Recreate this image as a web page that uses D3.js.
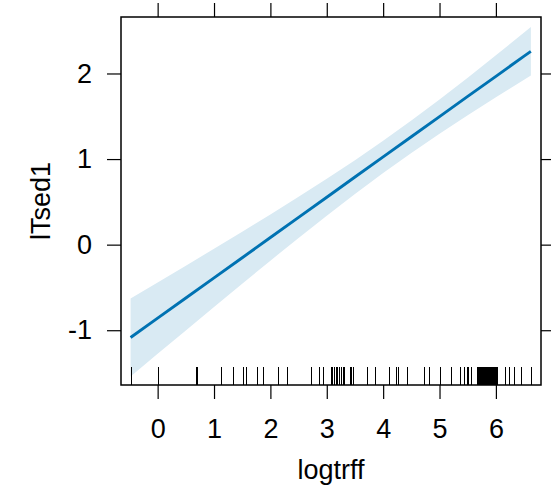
<!DOCTYPE html>
<meta charset="utf-8">
<style>
body { margin: 0; background: #fff; }
svg text { font-family: "Liberation Sans", Arial, sans-serif; fill: #000; }
.axis path { display: none; }
.axis line { stroke: #000; stroke-width: 1.2px; }
.box { fill: none; stroke: #000; stroke-width: 1.5px; }
.band { fill: #d9eaf3; stroke: none; }
.fit { fill: none; stroke: #0072b2; stroke-width: 2.9px; }
.rug { stroke: #000; stroke-width: 1px; }
</style>
<svg width="551" height="498"></svg>
<script src="https://d3js.org/d3.v7.min.js"></script>
<script>

// effect of logtrff on lTsed1 (fit + 95% band)
const xs    = [-0.48, 0, 0.5, 1, 1.5, 2, 2.5, 3, 3.5, 4, 4.5, 5, 5.5, 6, 6.5, 6.62];
const fit   = [-1.085, -0.859, -0.624, -0.388, -0.153, 0.083, 0.319, 0.554, 0.790, 1.025, 1.261, 1.496, 1.732, 1.967, 2.203, 2.259];
const lower = [-1.540, -1.276, -1.002, -0.728, -0.457, -0.187, 0.079, 0.339, 0.593, 0.837, 1.072, 1.296, 1.513, 1.722, 1.927, 1.976];
const upper = [-0.630, -0.443, -0.246, -0.048, 0.151, 0.353, 0.559, 0.769, 0.987, 1.213, 1.450, 1.696, 1.951, 2.212, 2.479, 2.542];

// observed logtrff values (rug)
const rug = [-0.47, 0, 0.68, 0.70, 1.13, 1.34, 1.52, 1.56, 1.77, 1.87, 2.14, 2.29,
  2.72, 2.87, 2.93, 3.07, 3.10, 3.13, 3.16, 3.19, 3.22, 3.25, 3.28, 3.30, 3.41, 3.43, 3.47,
  3.72, 3.85, 4.11, 4.23, 4.27, 4.43, 4.72, 4.82, 5.00, 5.20, 5.36, 5.44, 5.48, 5.51, 5.56,
  5.665, 5.68, 5.70, 5.715, 5.735, 5.75, 5.77, 5.79, 5.805, 5.82, 5.84, 5.86, 5.875, 5.895,
  5.91, 5.93, 5.945, 5.965, 5.98, 6.00, 6.015, 6.16, 6.23, 6.32, 6.45, 6.63];

const xTicks = [0, 1, 2, 3, 4, 5, 6];
const yTicks = [-1, 0, 1, 2];

const L = 121, R = 541, T = 17, B = 385;
const TICK = 14;
const FS = "27px";

var svg = d3.select("svg");

var x = d3.scaleLinear().domain([-0.65, 6.8]).range([L, R]);
var y = d3.scaleLinear().domain([-1.64, 2.66]).range([B, T]);
var fmt = function(d) { return String(d); };  // plain hyphen like R

var pts = xs.map(function(d, i) {
  return { x: d, fit: fit[i], lo: lower[i], hi: upper[i] };
});

svg.append("path")
  .datum(pts)
  .attr("class", "band")
  .attr("d", d3.area()
    .x(function(d) { return x(d.x); })
    .y0(function(d) { return y(d.lo); })
    .y1(function(d) { return y(d.hi); }));

svg.append("path")
  .datum(pts)
  .attr("class", "fit")
  .attr("d", d3.line()
    .x(function(d) { return x(d.x); })
    .y(function(d) { return y(d.fit); }));

svg.selectAll("line.rug")
  .data(rug)
  .enter().append("line")
    .attr("class", "rug")
    .attr("x1", function(d) { return Math.round(x(d)) + 0.5; })
    .attr("x2", function(d) { return Math.round(x(d)) + 0.5; })
    .attr("y1", B)
    .attr("y2", B - 18);

svg.append("rect")
  .attr("class", "box")
  .attr("x", L).attr("y", T)
  .attr("width", R - L).attr("height", B - T);

// axes: ticks on all four sides, labels bottom + left
svg.append("g").attr("class", "axis")
  .attr("transform", "translate(0," + B + ")")
  .call(d3.axisBottom(x).tickValues(xTicks).tickSize(TICK).tickSizeOuter(0).tickPadding(20).tickFormat(fmt))
  .selectAll("text").style("font-size", FS);

svg.append("g").attr("class", "axis")
  .attr("transform", "translate(0," + T + ")")
  .call(d3.axisTop(x).tickValues(xTicks).tickSize(TICK).tickSizeOuter(0).tickFormat(""));

svg.append("g").attr("class", "axis")
  .attr("transform", "translate(" + L + ",0)")
  .call(d3.axisLeft(y).tickValues(yTicks).tickSize(TICK).tickSizeOuter(0).tickPadding(15).tickFormat(fmt))
  .selectAll("text").style("font-size", FS);

svg.append("g").attr("class", "axis")
  .attr("transform", "translate(" + R + ",0)")
  .call(d3.axisRight(y).tickValues(yTicks).tickSize(TICK).tickSizeOuter(0).tickFormat(""));

svg.append("text")
  .attr("x", (L + R) / 2)
  .attr("y", 479)
  .attr("text-anchor", "middle")
  .style("font-size", FS)
  .text("logtrff");

svg.append("text")
  .attr("transform", "translate(50," + (T + B) / 2 + ") rotate(-90)")
  .attr("text-anchor", "middle")
  .style("font-size", FS)
  .text("lTsed1");

</script>
